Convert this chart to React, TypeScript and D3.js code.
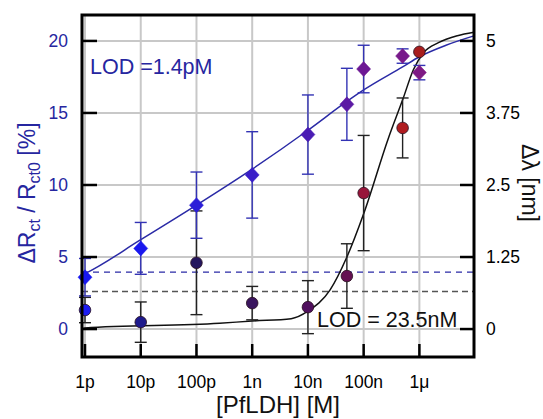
import React from "react";
import * as d3 from "d3";

// concentrations [M]
const conc = [1e-12, 1e-11, 1e-10, 1e-9, 1e-8, 5e-8, 1e-7, 5e-7, 1e-6];
// impedance response dRct/Rct0 [%] (left axis)
const rctMean = [3.6, 5.6, 8.6, 10.7, 13.5, 15.6, 18.05, 18.95, 17.8];
const rctErr = [1.3, 1.8, 2.3, 3.0, 2.75, 2.5, 1.65, 0.5, 0.5];
// plasmonic shift d-lambda [nm] (right axis)
const shiftMean = [0.33, 0.12, 1.15, 0.45, 0.38, 0.92, 2.36, 3.49, 4.81];
const shiftErr = [0.22, 0.35, 0.9, 0.29, 0.46, 0.56, 1.0, 0.52, 0];

// fit curves
const rctFitConc = [8.8e-13, 1e-12, 1e-11, 1e-10, 1e-9, 1e-8, 5e-8, 1e-7, 5e-7, 1e-6, 3e-6, 9.5e-6];
const rctFit = [3.75, 3.85, 6.2, 8.6, 11.1, 13.8, 15.8, 16.6, 18.2, 18.9, 19.7, 20.35];
const shiftFitConc = [8.8e-13, 1e-12, 2.6e-10, 1e-9, 5e-9, 1e-8, 2.5e-8, 5e-8, 1e-7, 2.75e-7, 5.1e-7, 7.8e-7, 1.2e-6, 2.2e-6, 4.8e-6, 9.5e-6];
const shiftFit = [0.0, 0.02, 0.1, 0.14, 0.18, 0.31, 0.68, 1.25, 2.0, 3.3, 4.0, 4.5, 4.8, 4.97, 5.09, 5.15];

// limit of detection thresholds
const lodRct = 3.95;
const lodShift = 0.65;

const xTicks = [1e-12, 1e-11, 1e-10, 1e-9, 1e-8, 1e-7, 1e-6];
const xTickLabels = ["1p", "10p", "100p", "1n", "10n", "100n", "1μ"];
const leftTicks = [0, 5, 10, 15, 20];
const rightTicks = [0, 1.25, 2.5, 3.75, 5];
const rightTickLabels = ["0", "1.25", "2.5", "3.75", "5"];

const diamondColors = ["#1818f0", "#1a18ee", "#2c1ed8", "#3a1ec8", "#4a1cb4", "#5c1aa4", "#6c1894", "#781a8a", "#7e1a84"];
const circleColors = ["#1c1cf0", "#1e1a8c", "#24165e", "#3a155e", "#50105e", "#641052", "#98143a", "#b01c20", "#a81e1e"];

const W = 543;
const H = 419;
const FONT = "'Liberation Sans', Arial, sans-serif";
const BLUE = "#2a2aa6";
const BLUE_TXT = "#2626a0";

export default function App() {
  const left = 82, right = 474, top = 15, bottom = 357;

  const x = d3.scaleLog().domain([Math.pow(10, -12.054), Math.pow(10, -5.02)]).range([left, right]);
  const yL = d3.scaleLinear().domain([-1.94, 21.8]).range([bottom, top]);
  const yR = d3.scaleLinear().domain([-1.94 / 4, 21.8 / 4]).range([bottom, top]);

  const rctLine = d3
    .line<number>()
    .x((_, i) => x(rctFitConc[i]))
    .y((d) => yL(d))
    .curve(d3.curveMonotoneX);
  const shiftLine = d3
    .line<number>()
    .x((_, i) => x(shiftFitConc[i]))
    .y((d) => yR(d))
    .curve(d3.curveMonotoneX);

  const dw = 7, dh = 7.5;
  const diamondPath = `M0,${-dh}L${dw},0L0,${dh}L${-dw},0Z`;
  const cap = 6;

  return (
    <svg width={W} height={H} style={{ position: "absolute", left: 0, top: 0, background: "#fff" }} fontFamily={FONT}>
      {/* grid */}
      <g stroke="#c8c8c8" strokeWidth={2}>
        {xTicks.map((t) => (
          <line key={"gx" + t} x1={x(t)} x2={x(t)} y1={top} y2={bottom} />
        ))}
        {leftTicks.map((t) => (
          <line key={"gy" + t} x1={left} x2={right} y1={yL(t)} y2={yL(t)} />
        ))}
      </g>

      {/* LOD thresholds */}
      <line x1={left} x2={right} y1={yL(lodRct)} y2={yL(lodRct)} stroke={BLUE} strokeWidth={1.2} strokeDasharray="6,5" />
      <line x1={left} x2={right} y1={yR(lodShift)} y2={yR(lodShift)} stroke="#555" strokeWidth={1.5} strokeDasharray="6,4" />

      {/* fits */}
      <path d={shiftLine(shiftFit) || ""} fill="none" stroke="#111" strokeWidth={1.5} />
      <path d={rctLine(rctFit) || ""} fill="none" stroke={BLUE} strokeWidth={1.5} />

      {/* error bars */}
      <g stroke="#222" strokeWidth={1.4}>
        {conc.map((c, i) =>
          shiftErr[i] > 0 ? (
            <g key={"es" + i}>
              <line x1={x(c)} x2={x(c)} y1={yR(shiftMean[i] - shiftErr[i])} y2={yR(shiftMean[i] + shiftErr[i])} />
              <line x1={x(c) - cap} x2={x(c) + cap} y1={yR(shiftMean[i] - shiftErr[i])} y2={yR(shiftMean[i] - shiftErr[i])} />
              <line x1={x(c) - cap} x2={x(c) + cap} y1={yR(shiftMean[i] + shiftErr[i])} y2={yR(shiftMean[i] + shiftErr[i])} />
            </g>
          ) : null
        )}
      </g>
      <g stroke="#3333b4" strokeWidth={1.4}>
        {conc.map((c, i) => (
          <g key={"er" + i}>
            <line x1={x(c)} x2={x(c)} y1={yL(rctMean[i] - rctErr[i])} y2={yL(rctMean[i] + rctErr[i])} />
            <line x1={x(c) - cap} x2={x(c) + cap} y1={yL(rctMean[i] - rctErr[i])} y2={yL(rctMean[i] - rctErr[i])} />
            <line x1={x(c) - cap} x2={x(c) + cap} y1={yL(rctMean[i] + rctErr[i])} y2={yL(rctMean[i] + rctErr[i])} />
          </g>
        ))}
      </g>

      {/* markers */}
      {conc.map((c, i) => (
        <circle key={"c" + i} cx={x(c)} cy={yR(shiftMean[i])} r={5.8} fill={circleColors[i]} stroke="#2a1020" strokeWidth={0.8} />
      ))}
      {conc.map((c, i) => (
        <path
          key={"d" + i}
          d={diamondPath}
          transform={`translate(${x(c)},${yL(rctMean[i])})`}
          fill={diamondColors[i]}
          stroke={diamondColors[i]}
          strokeWidth={0.5}
        />
      ))}

      {/* frame */}
      <rect x={left} y={top} width={right - left} height={bottom - top} fill="none" stroke="#000" strokeWidth={3} />

      {/* ticks */}
      <g stroke="#000" strokeWidth={2.5}>
        {xTicks.map((t) => (
          <line key={"tx" + t} x1={x(t)} x2={x(t)} y1={bottom} y2={bottom - 13} />
        ))}
        {leftTicks.map((t) => (
          <line key={"tl" + t} x1={left} x2={left + 15} y1={yL(t)} y2={yL(t)} />
        ))}
        {rightTicks.map((t) => (
          <line key={"tr" + t} x1={right} x2={right - 14} y1={yR(t)} y2={yR(t)} />
        ))}
      </g>

      {/* tick labels */}
      <g fontSize={17.5} fill="#000">
        {xTicks.map((t, i) => (
          <text key={"lx" + t} x={x(t)} y={388} textAnchor="middle">
            {xTickLabels[i]}
          </text>
        ))}
        {rightTicks.map((t, i) => (
          <text key={"lr" + t} x={486} y={yR(t)} dy="0.35em">
            {rightTickLabels[i]}
          </text>
        ))}
      </g>
      <g fontSize={17.5} fill={BLUE_TXT}>
        {leftTicks.map((t) => (
          <text key={"ll" + t} x={68} y={yL(t)} dy="0.35em" textAnchor="end">
            {t}
          </text>
        ))}
      </g>

      {/* annotations */}
      <text x={90} y={74} fontSize={21.5} fill={BLUE_TXT}>
        LOD =1.4pM
      </text>
      <text x={317} y={327} fontSize={21.5} fill="#111">
        LOD = 23.5nM
      </text>

      {/* axis titles */}
      <text x={278} y={413} fontSize={24} textAnchor="middle" fill="#111">
        [PfLDH] [M]
      </text>
      <text transform="translate(35,193) rotate(-90)" fontSize={23} textAnchor="middle" fill={BLUE_TXT}>
        ΔR
        <tspan fontSize={16} dy={5}>ct</tspan>
        <tspan dy={-5}> / R</tspan>
        <tspan fontSize={16} dy={5}>ct0</tspan>
        <tspan dy={-5}> [%]</tspan>
      </text>
      <text transform="translate(522,183) rotate(90)" fontSize={23} textAnchor="middle" fill="#111">
        Δλ [nm]
      </text>
    </svg>
  );
}
